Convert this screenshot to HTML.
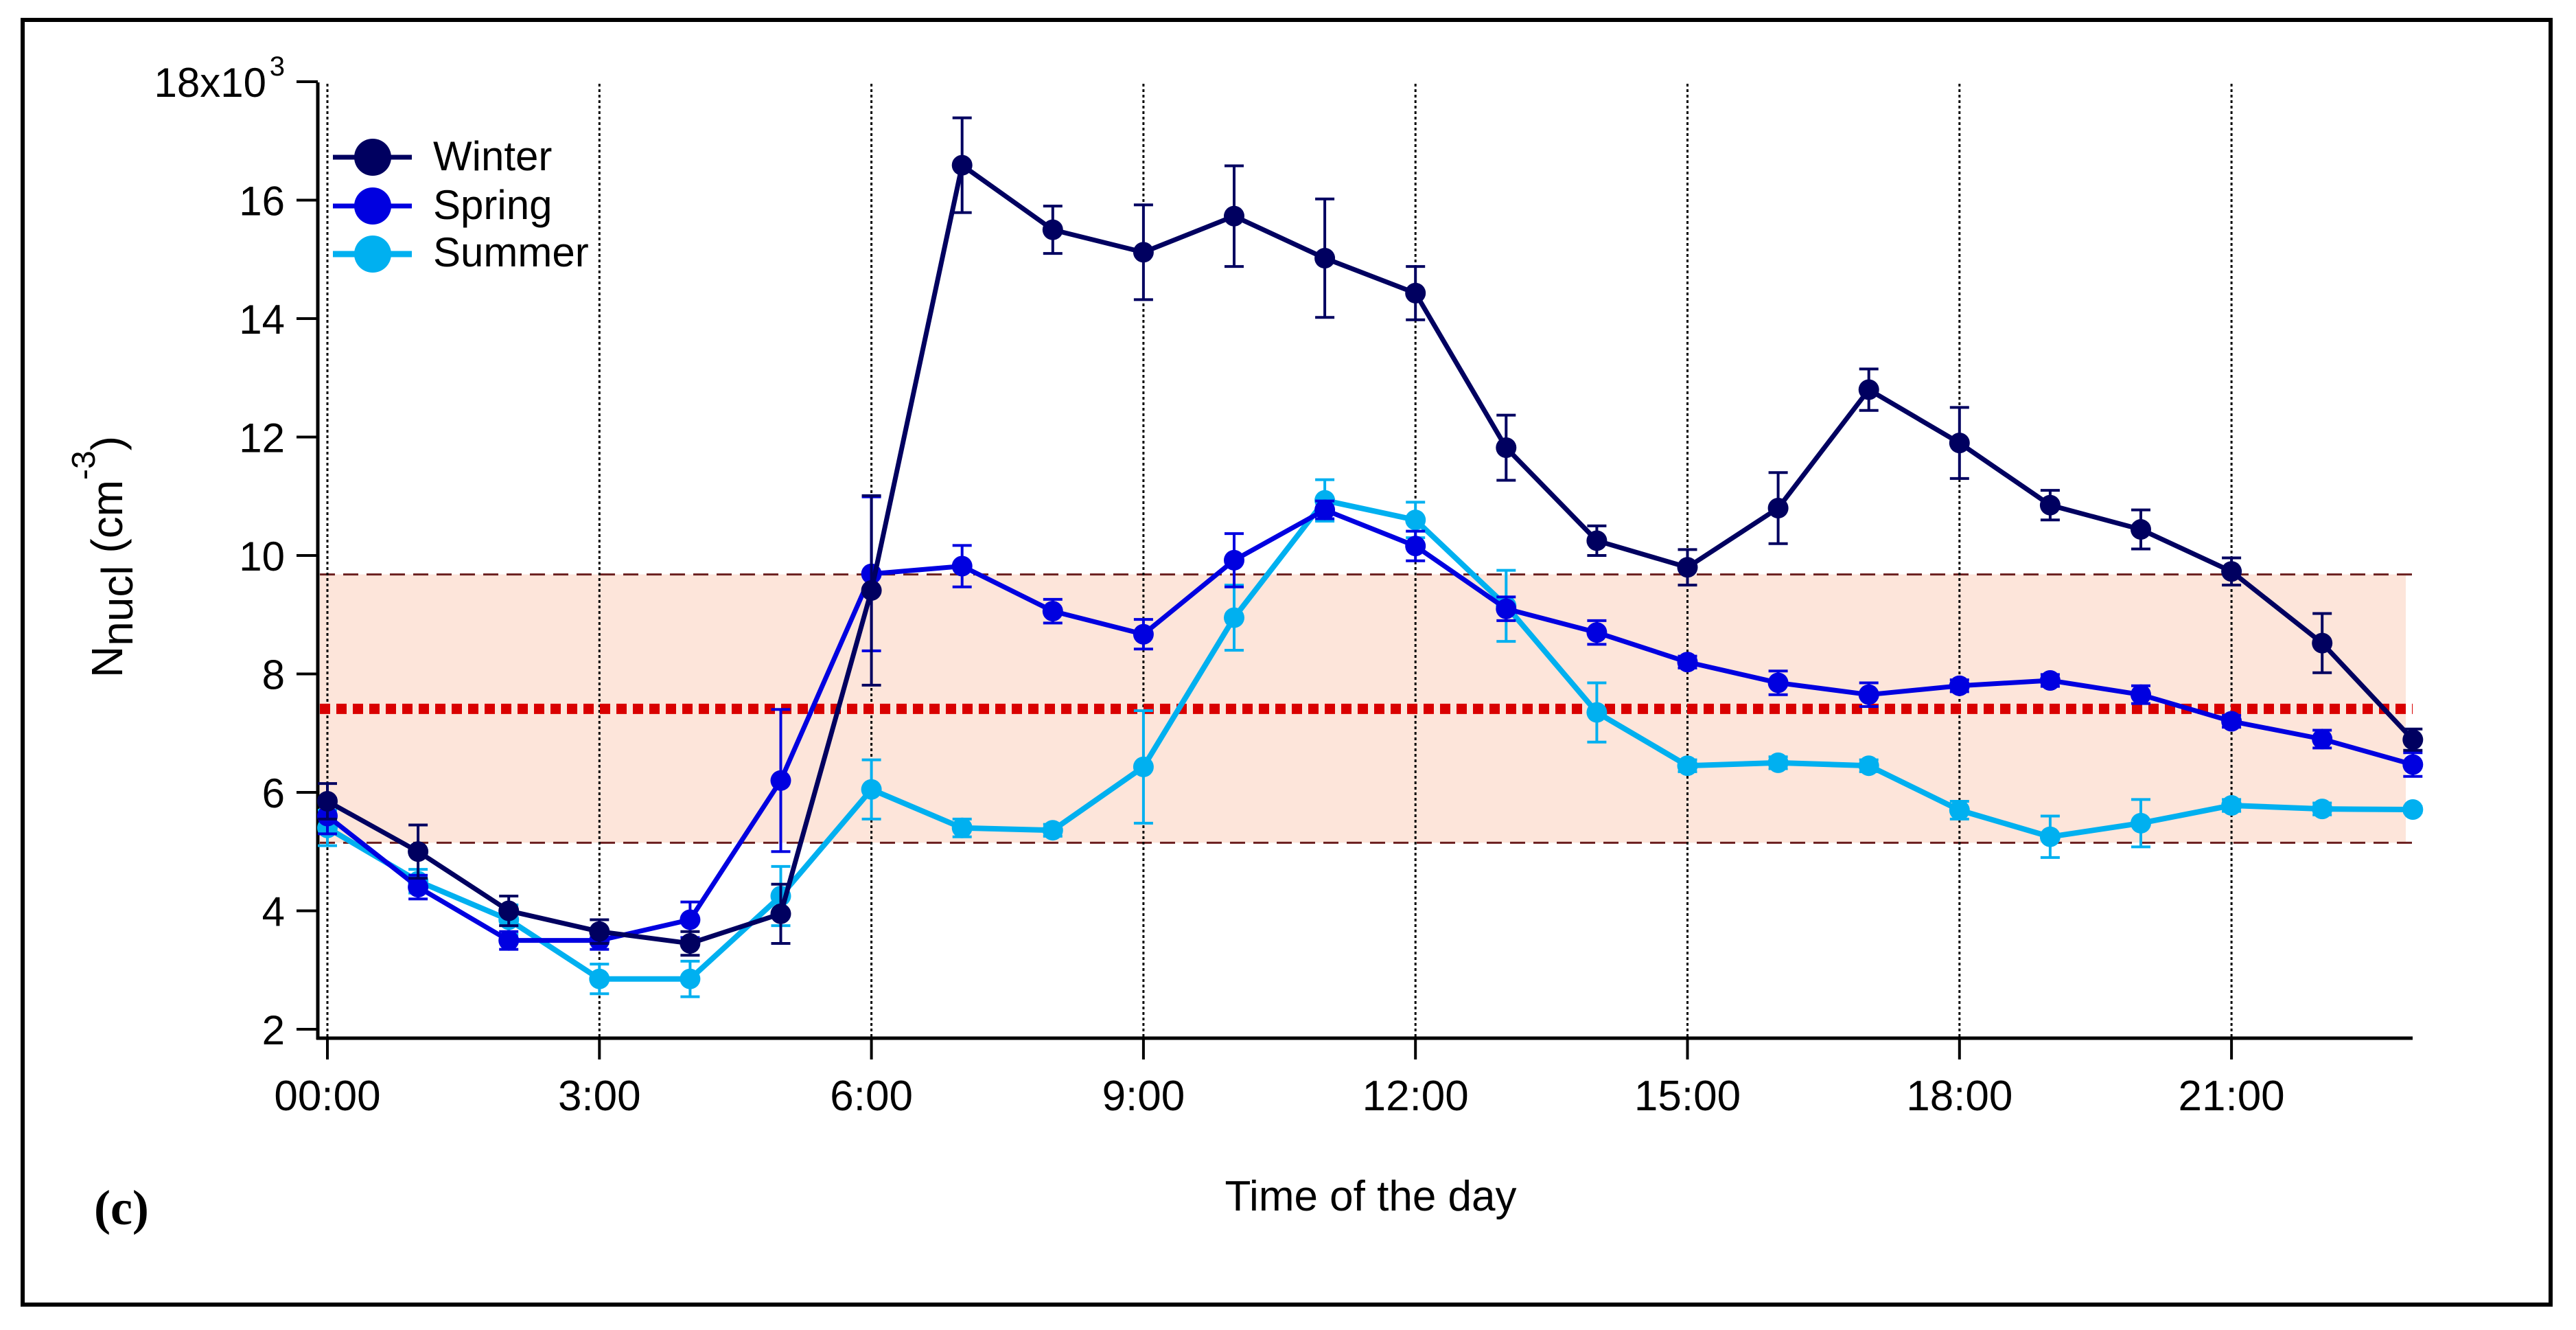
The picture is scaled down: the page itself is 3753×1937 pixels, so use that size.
<!DOCTYPE html>
<html><head><meta charset="utf-8"><style>
html,body{margin:0;padding:0;background:#fff;}
svg{display:block;font-family:"Liberation Sans",Arial,sans-serif;}
</style></head><body>
<svg id="chart" width="3753" height="1937" viewBox="0 0 3753 1937" xmlns="http://www.w3.org/2000/svg">
<rect x="33" y="29" width="3683" height="1871" fill="#fff" stroke="#000" stroke-width="6"/>
<g id="plot"></g>
<text transform="translate(178,987) rotate(-90)" font-size="64" fill="#000">N<tspan dy="15">nucl</tspan><tspan dy="-15"> (cm</tspan><tspan dy="-40" font-size="48">-3</tspan><tspan dy="40">)</tspan></text>
<text x="1997" y="1763" font-size="62" text-anchor="middle" fill="#000">Time of the day</text>
<text x="137" y="1783" font-size="72" font-weight="bold" font-family="Liberation Serif, serif" fill="#000">(c)</text>
<g>
<g><line x1="485" y1="229" x2="600" y2="229" stroke="#000060" stroke-width="7"/><circle cx="543" cy="229" r="27" fill="#000060"/><text x="631" y="248" font-size="60">Winter</text></g>
<g><line x1="485" y1="300" x2="600" y2="300" stroke="#0000e0" stroke-width="7"/><circle cx="543" cy="300" r="27" fill="#0000e0"/><text x="631" y="319" font-size="60">Spring</text></g>
<g><line x1="485" y1="370" x2="600" y2="370" stroke="#00b0f0" stroke-width="9"/><circle cx="543" cy="370" r="27" fill="#00b0f0"/><text x="631" y="388" font-size="60">Summer</text></g>
</g>
</svg>
<script>
const hours = [0,1,2,3,4,5,6,7,8,9,10,11,12,13,14,15,16,17,18,19,20,21,22,23];
const winter = [5.85,5.0,4.0,3.65,3.45,3.95,9.41,16.59,15.5,15.12,15.73,15.02,14.43,11.82,10.25,9.8,10.8,12.8,11.9,10.85,10.44,9.73,8.52,6.89];
const winterErr = [0.3,0.45,0.25,0.2,0.2,0.5,1.6,0.8,0.4,0.8,0.85,1.0,0.45,0.55,0.25,0.3,0.6,0.35,0.6,0.25,0.33,0.23,0.5,0.18];
const spring = [5.6,4.4,3.5,3.5,3.85,6.2,9.69,9.82,9.06,8.67,9.92,10.77,10.16,9.1,8.7,8.2,7.85,7.65,7.8,7.89,7.65,7.2,6.9,6.47];
const springErr = [0.3,0.2,0.15,0.15,0.3,1.2,1.3,0.35,0.2,0.25,0.45,0.15,0.25,0.2,0.2,0.1,0.2,0.2,0.1,0.1,0.15,0.1,0.15,0.2];
const summer = [5.4,4.5,3.85,2.85,2.85,4.25,6.05,5.4,5.36,6.43,8.95,10.93,10.6,9.15,7.35,6.45,6.5,6.45,5.7,5.25,5.48,5.78,5.72,5.71];
const summerErr = [0.3,0.2,0.25,0.25,0.3,0.5,0.5,0.15,0.1,0.95,0.55,0.35,0.3,0.6,0.5,0.1,0.1,0.1,0.15,0.35,0.4,0.1,0.1,0.05];
const yTicks = [2,4,6,8,10,12,14,16,18];
const yTickLabels = ["2","4","6","8","10","12","14","16","18x10"];
const xTicks = [0,3,6,9,12,15,18,21];
const xTickLabels = ["00:00","3:00","6:00","9:00","12:00","15:00","18:00","21:00"];
const bandRange = [5.15,9.68];
const meanValue = [7.41];

const NS = "http://www.w3.org/2000/svg";
const plot = document.getElementById('plot');
function X(h){ return 477 + h * 132.1; }
function Y(v){ return 1499 - (v - 2) * 86.25; }
function mk(tag, attrs, parent){
  const e = document.createElementNS(NS, tag);
  for (const k in attrs) e.setAttribute(k, attrs[k]);
  (parent || plot).appendChild(e);
  return e;
}
let e = mk('rect', {x:466, y:Y(bandRange[1]), width:3505-466, height:Y(bandRange[0])-Y(bandRange[1]), fill:'#fde5da'});


bandRange.forEach(v => {
  const l = mk('line', {x1:466, x2:3515, y1:Y(v), y2:Y(v), stroke:'#6b1f1f', 'stroke-width':3, 'stroke-dasharray':'22 12'});
  
  
});
xTicks.forEach(h => {
  const g = mk('line', {x1:X(h), x2:X(h), y1:122, y2:1512, stroke:'#000', 'stroke-width':3, 'stroke-dasharray':'4 4'});
  
  
});
e = mk('line', {x1:466, x2:3515, y1:Y(meanValue[0]), y2:Y(meanValue[0]), stroke:'#d90000', 'stroke-width':15, 'stroke-dasharray':'15 9'});


e = mk('line', {x1:463, x2:463, y1:120, y2:1514, stroke:'#000', 'stroke-width':5});


e = mk('line', {x1:461, x2:3515, y1:1512, y2:1512, stroke:'#000', 'stroke-width':5});


yTicks.forEach((v, i) => {
  const t = mk('line', {x1:432, x2:463, y1:Y(v), y2:Y(v), stroke:'#000', 'stroke-width':4});
  
  
  const isTop = i === yTicks.length - 1;
  const lb = mk('text', {x:isTop ? 388 : 415, y:Y(v) + 22, 'font-size':60, 'text-anchor':'end', fill:'#000'});
  lb.textContent = yTickLabels[i];
  
  
  if (isTop) {
    const s = mk('text', {x:415, y:Y(v) - 9, 'font-size':40, 'text-anchor':'end', fill:'#000'});
    s.textContent = '3';
    
    
  }
});
xTicks.forEach((h, i) => {
  const t = mk('line', {x1:X(h), x2:X(h), y1:1512, y2:1543, stroke:'#000', 'stroke-width':4});
  
  
  const lb = mk('text', {x:X(h), y:1617, 'font-size':62, 'text-anchor':'middle', fill:'#000'});
  lb.textContent = xTickLabels[i];
  
  
});
function series(vals, errs, color, name, lw){
  const g = mk('g', {});
  
  
  errs.forEach((er, i) => {
    const x = X(hours[i]), y1 = Y(vals[i] + er), y2 = Y(vals[i] - er);
    const b = mk('path', {d:`M${x},${y1}V${y2}M${x-14},${y1}H${x+14}M${x-14},${y2}H${x+14}`, stroke:color, 'stroke-width':4, fill:'none'}, g);
    
    
  });
  const pl = mk('polyline', {points: vals.map((v, i) => X(hours[i]) + ',' + Y(v)).join(' '), fill:'none', stroke:color, 'stroke-width':lw, 'stroke-linejoin':'round'}, g);
  
  
  vals.forEach((v, i) => {
    const c = mk('circle', {cx:X(hours[i]), cy:Y(v), r:15, fill:color}, g);
    
    
  });
}
series(summer, summerErr, '#00b0f0', 'summer', 8);
series(spring, springErr, '#0000e0', 'spring', 7);
series(winter, winterErr, '#000060', 'winter', 7);
</script>
</body></html>
